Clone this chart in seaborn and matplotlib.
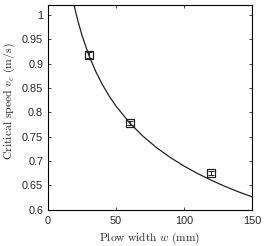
import numpy as np
import pandas as pd
import matplotlib
matplotlib.use("Agg")
import matplotlib.pyplot as plt
import seaborn as sns

# measured data
width_mm = [30, 60, 120]
speed = [0.917, 0.778, 0.675]
speed_err = [0.006, 0.004, 0.004]

# fitted curve
curve_w = [18, 20, 22, 25, 30, 35, 40, 45, 50, 60, 70, 80, 90, 100, 110, 120, 130, 140, 150]
curve_v = [1.035, 1.0095, 0.987, 0.9576, 0.917, 0.8841, 0.8566, 0.833, 0.8125, 0.778,
           0.7502, 0.7268, 0.7068, 0.6894, 0.674, 0.6603, 0.6478, 0.6365, 0.6262]

xticks = [0, 50, 100, 150]
yticks = [0.6, 0.65, 0.7, 0.75, 0.8, 0.85, 0.9, 0.95, 1.0]
ytick_labels = ["0.6", "0.65", "0.7", "0.75", "0.8", "0.85", "0.9", "0.95", "1"]

sns.set_style("ticks")
plt.rcParams["mathtext.fontset"] = "cm"
plt.rcParams["font.family"] = ["Liberation Sans", "DejaVu Sans"]

fig = plt.figure(figsize=(2.67, 2.46), dpi=100)
ax = fig.add_axes([0.18, 0.148, 0.764, 0.832])

curve_df = pd.DataFrame({"w": curve_w, "v": curve_v})
sns.lineplot(data=curve_df, x="w", y="v", ax=ax, color="#222222", lw=0.9)

data_df = pd.DataFrame({"w": width_mm, "v": speed})
ax.errorbar(width_mm, speed, yerr=speed_err, fmt="none", ecolor="#222222",
            elinewidth=0.7, capsize=2.0, capthick=0.7, zorder=4)
sns.scatterplot(data=data_df, x="w", y="v", ax=ax, marker="s", s=32,
                facecolor="none", edgecolor="#222222", linewidth=0.9, zorder=5)

ax.set_xlim(0, 150)
ax.set_ylim(0.6, 1.0205)
ax.set_xticks(xticks)
ax.set_xticklabels([str(t) for t in xticks])
ax.set_yticks(yticks)
ax.set_yticklabels(ytick_labels)
ax.tick_params(direction="in", length=2.5, width=0.6, labelsize=7.8,
               top=True, right=True)
ax.tick_params(axis="y", pad=3.5)
ax.tick_params(axis="x", pad=4.5)
for s in ax.spines.values():
    s.set_linewidth(0.8)
    s.set_color("black")

ax.set_xlabel(r"$\mathrm{Plow\ width}\ w\ \mathrm{(mm)}$", fontsize=8.3)
ax.set_ylabel(r"$\mathrm{Critical\ speed}\ v_c\ \mathrm{(m/s)}$", fontsize=8.5)
ax.xaxis.set_label_coords(0.5, -0.103)
ax.yaxis.set_label_coords(-0.15, 0.53)

fig.savefig("out.png", dpi=100)
